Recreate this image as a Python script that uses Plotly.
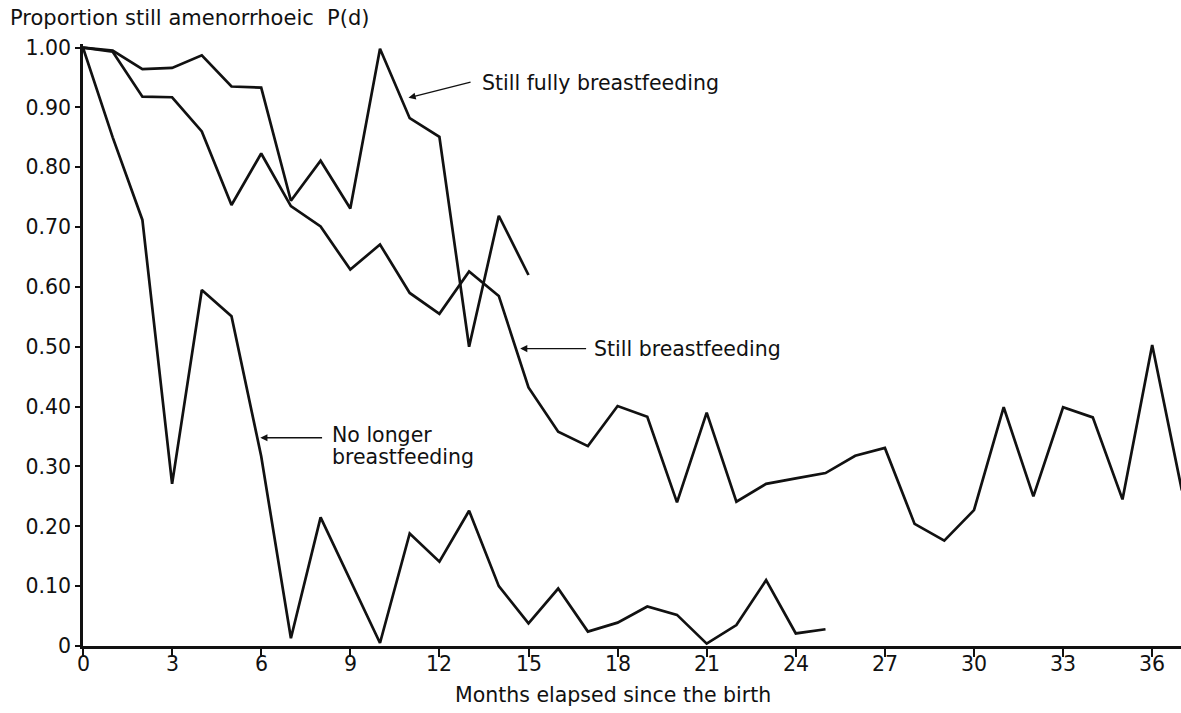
import plotly.graph_objects as go

FONT = "DejaVu Sans"

# months and proportions
months_full = list(range(0, 16))
still_fully = [1.00, 0.995, 0.964, 0.966, 0.987, 0.935, 0.933, 0.744, 0.811, 0.731,
               0.998, 0.882, 0.851, 0.500, 0.719, 0.620]

months_still = list(range(0, 38))
still_bf = [1.00, 0.993, 0.918, 0.917, 0.860, 0.737, 0.823, 0.735, 0.701, 0.629,
            0.671, 0.590, 0.555, 0.626, 0.585, 0.432, 0.358, 0.334, 0.401, 0.383,
            0.240, 0.390, 0.241, 0.271, 0.280, 0.289, 0.318, 0.331, 0.204, 0.176,
            0.227, 0.399, 0.250, 0.399, 0.382, 0.245, 0.503, 0.26]

months_no = list(range(0, 26))
no_longer = [1.00, 0.85, 0.712, 0.271, 0.595, 0.551, 0.317, 0.013, 0.215, 0.11,
             0.005, 0.188, 0.141, 0.226, 0.100, 0.038, 0.096, 0.024, 0.039, 0.066,
             0.052, 0.004, 0.035, 0.110, 0.021, 0.028]

y_ticks = [0, 0.1, 0.2, 0.3, 0.4, 0.5, 0.6, 0.7, 0.8, 0.9, 1.0]
y_labels = ["0", "0.10", "0.20", "0.30", "0.40", "0.50", "0.60", "0.70", "0.80", "0.90", "1.00"]
x_ticks = list(range(0, 37, 3))

line = dict(color="#111111", width=2.7)
text_font = dict(family=FONT, size=20.5, color="#111111")

fig = go.Figure()
for xs, ys, name in [(months_full, still_fully, "Still fully breastfeeding"),
                     (months_still, still_bf, "Still breastfeeding"),
                     (months_no, no_longer, "No longer breastfeeding")]:
    fig.add_trace(go.Scatter(x=xs, y=ys, mode="lines", name=name, line=line,
                             showlegend=False))

# arrows (tip, tail) and labels
arrows = [((10.96, 0.916), (13.1, 0.943)),
          ((14.72, 0.497), (16.99, 0.497)),
          ((5.97, 0.348), (8.10, 0.348))]
for (tx, ty), (sx, sy) in arrows:
    fig.add_annotation(x=tx, y=ty, ax=sx, ay=sy, xref="x", yref="y",
                       axref="x", ayref="y", text="", showarrow=True,
                       arrowhead=2, arrowsize=1.1, arrowwidth=1.3,
                       arrowcolor="#111111")

labels = [("Still fully breastfeeding", 13.37, 0.941),
          ("Still breastfeeding", 17.13, 0.497),
          ("No longer", 8.33, 0.353),
          ("breastfeeding", 8.33, 0.316)]
for txt, lx, ly in labels:
    fig.add_annotation(x=lx, y=ly, xref="x", yref="y", text=txt, showarrow=False,
                       xanchor="left", yanchor="middle", font=text_font)

# x tick labels sit tight under the ticks
for t in x_ticks:
    fig.add_annotation(x=t, y=-0.0299, xref="x", yref="paper", text=str(t),
                       showarrow=False, xanchor="center", yanchor="middle",
                       font=text_font)

fig.add_annotation(x=-0.0683, y=1.043, xref="paper", yref="paper",
                   text="Proportion still amenorrhoeic  P(d)", showarrow=False,
                   xanchor="left", yanchor="middle",
                   font=dict(family=FONT, size=21, color="#111111"))
fig.add_annotation(x=0.483, y=-0.081, xref="paper", yref="paper",
                   text="Months elapsed since the birth", showarrow=False,
                   xanchor="center", yanchor="middle", font=text_font)

fig.update_layout(
    width=1181,
    height=713,
    margin=dict(l=83, r=0, t=44, b=67),
    plot_bgcolor="white",
    paper_bgcolor="white",
    font=text_font,
)
fig.update_xaxes(range=[0, 36.97], tickvals=x_ticks, showticklabels=False,
                 ticks="outside", ticklen=8, tickwidth=2, tickcolor="#111111",
                 showline=True, linewidth=2.5, linecolor="#111111",
                 showgrid=False, zeroline=False)
fig.update_yaxes(range=[0, 1.006], tickvals=y_ticks, ticktext=y_labels,
                 ticks="outside", ticklen=5, tickwidth=1.5, tickcolor="#111111",
                 showline=True, linewidth=2.5, linecolor="#111111",
                 showgrid=False, zeroline=False)

fig.write_html("out.html", config={"displayModeBar": False},
               post_script="document.body.style.margin='0';"
                           "document.body.style.overflow='hidden';")
